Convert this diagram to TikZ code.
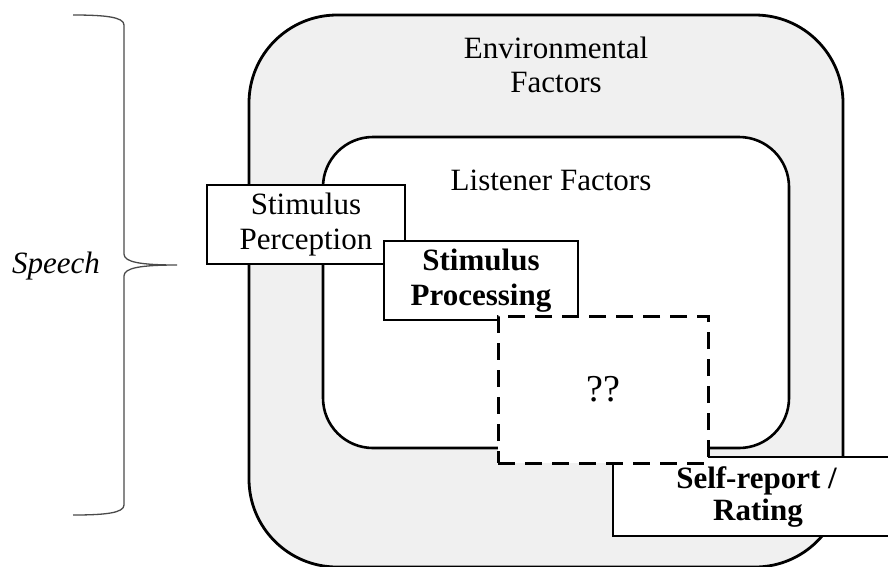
\documentclass[tikz,border=0pt]{standalone}
\usepackage{fontspec}
\setmainfont{Liberation Serif}
\definecolor{ringgrey}{HTML}{F0F0F0}
\definecolor{bracegrey}{HTML}{4A4A4A}
\tikzset{
  txt/.style={font=\fontsize{31}{34.5}\selectfont, align=center, inner sep=0pt},
  ring/.style={draw=black, line width=2.8pt, rectangle},
  stagebox/.style={draw=black, line width=1.1pt, fill=white, rectangle, inner sep=0pt,
    font=\fontsize{31}{34.5}\selectfont, align=center},
  unknownbox/.style={draw=black, line width=3pt, fill=white, rectangle, inner sep=0pt,
    dash pattern=on 17pt off 10pt, font=\fontsize{38}{40}\selectfont},
}
\begin{document}
\begin{tikzpicture}[x=1pt, y=-1pt]
  \useasboundingbox (0,0) rectangle (888,566);
  % outer and inner factor rings
  \node[ring, fill=ringgrey, rounded corners=88pt, minimum width=594pt, minimum height=552pt] (env) at (546,291) {};
  \node[ring, fill=white, line width=2.6pt, rounded corners=50pt, minimum width=466pt, minimum height=311pt] (lis) at (556,292.5) {};
  \node[txt] (envlabel) at (556,65) {Environmental\\Factors};
  \node[txt, anchor=base] (lislabel) at (551,190) {Listener Factors};
  % stage boxes
  \node[stagebox, minimum width=198pt, minimum height=79pt] (perc) at (306,224.5) {Stimulus\\Perception};
  \node[stagebox, minimum width=194pt, minimum height=79pt, font=\fontsize{31}{34.5}\selectfont\bfseries] (proc) at (481,280.5) {Stimulus\\Processing};
  \node[stagebox, minimum width=290pt, minimum height=79pt, font=\fontsize{31}{32}\selectfont\bfseries] (rate) at (758,496.5) {\hspace*{-3pt}Self-report /\\Rating};
  \node[unknownbox, minimum width=210pt, minimum height=147pt] (unk) at (603,389.5) {??};
  % brace spanning the speech stages
  \coordinate (btop) at (73,15);
  \coordinate (btip) at (177,265);
  \coordinate (bbot) at (73,515);
  \draw[bracegrey, line width=1.3pt]
    (btop) .. controls (105,15) and (124,17) .. (124,25) -- (124,254)
    .. controls (124,262) and (140,265) .. (btip)
    .. controls (140,265) and (124,268) .. (124,276) -- (124,505)
    .. controls (124,513) and (105,515) .. (bbot);
  \node[txt, anchor=base, font=\fontsize{31}{34.5}\selectfont\itshape] (speech) at (56,273) {Speech};
\end{tikzpicture}
\end{document}
